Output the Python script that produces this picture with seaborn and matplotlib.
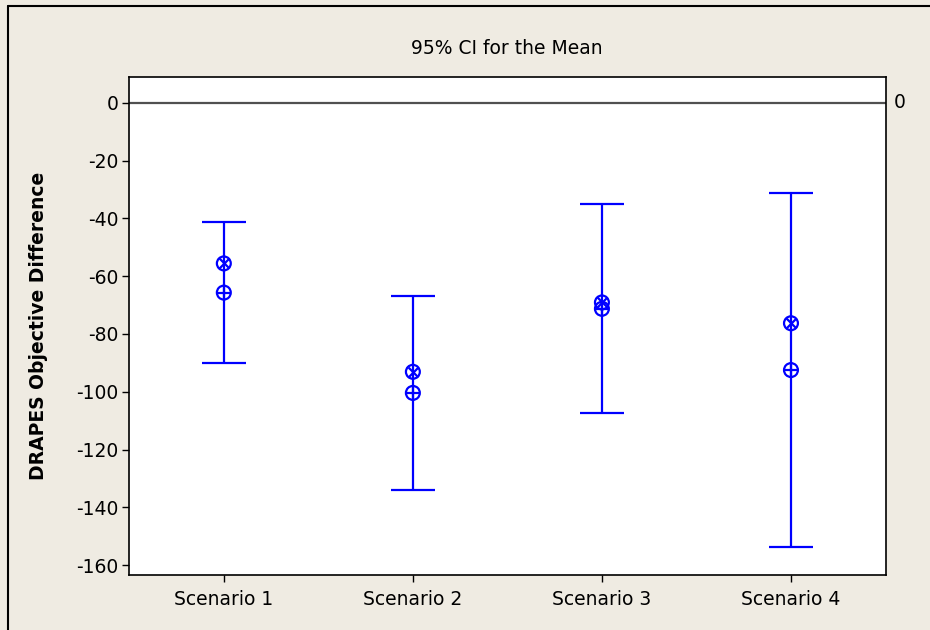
import matplotlib
matplotlib.use("Agg")
import matplotlib.pyplot as plt
import matplotlib.transforms as mtransforms
from matplotlib.lines import Line2D
import numpy as np
import pandas as pd
import seaborn as sns

# Interval data: 95% CI for the mean of each scenario
scenarios = ["Scenario 1", "Scenario 2", "Scenario 3", "Scenario 4"]
ci_upper = [-41.4, -66.8, -35.1, -31.1]
ci_lower = [-90.0, -134.0, -107.5, -153.8]
mean_vals = [-65.7, -100.4, -71.3, -92.5]
cross_vals = [-55.6, -93.1, -69.1, -76.3]
y_ticks = [0, -20, -40, -60, -80, -100, -120, -140, -160]

BG = "#EFEBE2"
BLUE = "#0000FF"
FS = 13.5

sns.set_theme(style="white")
plt.rcParams["font.family"] = ["DejaVu Sans"]

W, H = 930, 630
fig = plt.figure(figsize=(W / 100, H / 100), dpi=100, facecolor=BG)
ax = fig.add_axes([129.3 / W, (H - 575) / H, (885.5 - 129.3) / W, (575 - 76.7) / H])
ax.set_facecolor("white")

df = pd.DataFrame({
    "scenario": scenarios,
    "upper": ci_upper,
    "lower": ci_lower,
    "mean": mean_vals,
    "cross": cross_vals,
})
pos = np.arange(len(scenarios))

# reference line at zero
ax.axhline(0, color="#505050", lw=1.6, zorder=1)

# confidence intervals
m = df["mean"].to_numpy()
ax.errorbar(pos, m, yerr=[m - df["lower"].to_numpy(), df["upper"].to_numpy() - m],
            fmt="none", ecolor=BLUE, elinewidth=1.6, capsize=15.8, capthick=1.6, zorder=2)

# mean symbol: circle with plus
sns.scatterplot(x=pos, y=df["mean"], ax=ax, marker="o", s=100, color=BLUE,
                facecolor="none", edgecolor=BLUE, linewidth=1.6, zorder=3, legend=False)
sns.scatterplot(x=pos, y=df["mean"], ax=ax, marker="+", s=100, color=BLUE,
                linewidth=1.6, zorder=3, legend=False)
# second symbol: circle with cross
sns.scatterplot(x=pos, y=df["cross"], ax=ax, marker="o", s=100, color=BLUE,
                facecolor="none", edgecolor=BLUE, linewidth=1.6, zorder=3, legend=False)
sns.scatterplot(x=pos, y=df["cross"], ax=ax, marker="x", s=50, color=BLUE,
                linewidth=1.6, zorder=3, legend=False)

ax.set_xlim(-0.5, len(scenarios) - 0.5)
ax.set_ylim(-163.4, 9.0)
ax.set_xticks(pos)
ax.set_xticklabels(scenarios)
ax.set_yticks(y_ticks)
ax.set_yticklabels([str(t) for t in y_ticks])
ax.tick_params(axis="both", which="major", direction="out", length=5, width=1,
               color="black", labelsize=FS, labelcolor="black", bottom=True, left=True)
ax.tick_params(axis="x", pad=6)
ax.tick_params(axis="y", pad=3)
for sp in ax.spines.values():
    sp.set_color("black")
    sp.set_linewidth(1.2)
ax.grid(False)

ax.set_xlabel("")
ax.set_ylabel("DRAPES Objective Difference", fontweight="bold", fontsize=FS, color="black")
ax.yaxis.set_label_coords((48 - 129.3) / (885.5 - 129.3), 0.5)

# label of the reference line on the right side
trans = mtransforms.blended_transform_factory(ax.transAxes, ax.transData)
ax.text(1.0 + 8 / (885.5 - 129.3), 0, "0", transform=trans, ha="left", va="center",
        fontsize=FS, color="black")

fig.text(507 / W, 1 - 48 / H, "95% CI for the Mean", ha="center", va="center",
         fontsize=FS, color="black")

# outer frame
fig.add_artist(Line2D([8 / W, 8 / W], [0, 1 - 6 / H], transform=fig.transFigure,
                      color="black", lw=1.5))
fig.add_artist(Line2D([8 / W, 1], [1 - 6 / H, 1 - 6 / H], transform=fig.transFigure,
                      color="black", lw=1.5))

fig.savefig("out.png", dpi=100, facecolor=BG)
